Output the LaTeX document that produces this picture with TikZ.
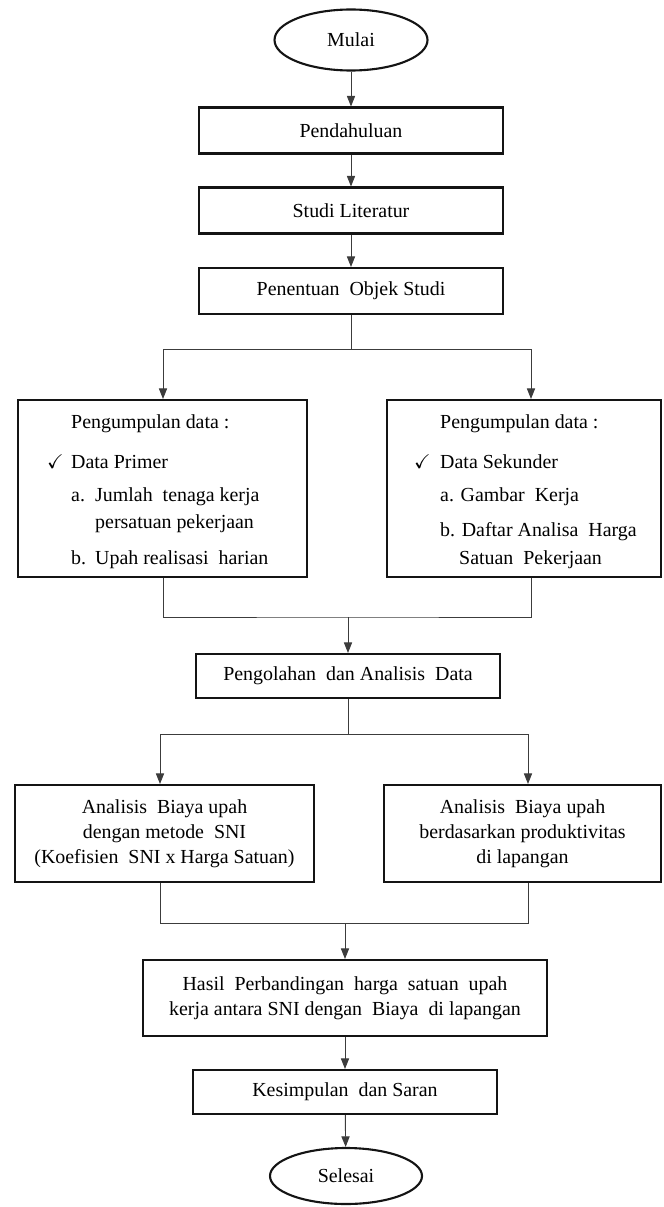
\documentclass[tikz,border=0pt]{standalone}
\usepackage{amssymb}
\usepackage{fontspec}
\setmainfont{Liberation Serif}
\usepackage{tikz}
\usetikzlibrary{shapes.geometric, arrows.meta}
\definecolor{ink}{RGB}{20, 20, 20}
\definecolor{wire}{RGB}{60, 60, 60}

\begin{document}
\begin{tikzpicture}[x=0.03cm, y=-0.03cm,
    every node/.style={font=\fontsize{17}{21.5}\selectfont},
    box/.style={draw=ink, line width=1.8pt, rectangle, inner sep=0pt, align=center},
    term/.style={draw=ink, line width=1.8pt, ellipse, inner sep=0pt},
    txt/.style={anchor=base west, inner sep=0pt},
    arr/.style={draw=wire, line width=0.8pt, -{Triangle[length=9pt, width=7pt]}},
    wire/.style={draw=wire, line width=0.8pt}]

  \useasboundingbox (0, 0) rectangle (663, 1207);

  % main column
  \node[term, minimum width=4.59cm, minimum height=1.83cm] (mulai) at (351, 40) {Mulai};
  \node[box, minimum width=9.12cm, minimum height=1.38cm] (pend) at (351, 130.5) {Pendahuluan};
  \node[box, minimum width=9.12cm, minimum height=1.38cm] (studi) at (351, 210.5) {Studi Literatur};
  \node[box, minimum width=9.12cm, minimum height=1.38cm] (objek) at (351, 291) {Penentuan \ Objek Studi};

  \draw[arr] (mulai) -- (pend);
  \draw[arr] (pend) -- (studi);
  \draw[arr] (studi) -- (objek);

  % pengumpulan data
  \node[box, minimum width=8.67cm, minimum height=5.31cm] (primer) at (162.5, 488.5) {};
  \node[box, minimum width=8.22cm, minimum height=5.31cm] (sekunder) at (524, 488.5) {};

  \node[txt] (p0) at (71, 428.5) {Pengumpulan data :};
  \node[txt] (p1c) at (47, 468.5) {$\checkmark$};
  \node[txt] (p1) at (71, 468.5) {Data Primer};
  \node[txt] (p2a) at (71, 501.5) {a.};
  \node[txt] (p2) at (95, 501.5) {Jumlah \ tenaga kerja};
  \node[txt] (p3) at (95, 528.5) {persatuan pekerjaan};
  \node[txt] (p4b) at (71, 564.5) {b.};
  \node[txt] (p4) at (95, 564.5) {Upah realisasi \ harian};

  \node[txt] (s0) at (440, 428.5) {Pengumpulan data :};
  \node[txt] (s1c) at (414, 468.5) {$\checkmark$};
  \node[txt] (s1) at (440, 468.5) {Data Sekunder};
  \node[txt] (s2) at (440, 501.5) {a. Gambar \ Kerja};
  \node[txt] (s3) at (440, 536.5) {b. Daftar Analisa \ Harga};
  \node[txt] (s4) at (459, 564.5) {Satuan \ Pekerjaan};

  \coordinate (b1) at (351, 349);
  \coordinate (b1l) at (163, 349);
  \coordinate (b1r) at (531, 349);
  \draw[wire] (objek) -- (b1);
  \draw[wire] (b1l) -- (b1r);
  \draw[arr] (b1l) -- (b1l |- primer.north);
  \draw[arr] (b1r) -- (b1r |- sekunder.north);

  \node[box, minimum width=9.12cm, minimum height=1.32cm] (olah) at (348, 676) {Pengolahan \ dan Analisis \ Data};

  \coordinate (m1) at (348, 617);
  \draw[wire] (b1l |- primer.south) |- (m1) -| (b1r |- sekunder.south);
  \draw[arr] (m1) -- (olah);

  % analisis
  \node[box, minimum width=8.97cm, minimum height=2.91cm] (sni) at (164.5, 833.5)
    {Analisis \ Biaya upah\\dengan metode \ SNI\\(Koefisien \ SNI x Harga Satuan)};
  \node[box, minimum width=8.31cm, minimum height=2.91cm] (lap) at (522.5, 833.5)
    {Analisis \ Biaya upah\\berdasarkan produktivitas\\di lapangan};

  \coordinate (b2) at (348, 734);
  \coordinate (b2l) at (160, 734);
  \coordinate (b2r) at (528, 734);
  \draw[wire] (olah) -- (b2);
  \draw[wire] (b2l) -- (b2r);
  \draw[arr] (b2l) -- (b2l |- sni.north);
  \draw[arr] (b2r) -- (b2r |- lap.north);

  \node[box, minimum width=12.12cm, minimum height=2.28cm] (hasil) at (345, 998)
    {Hasil \ Perbandingan \ harga \ satuan \ upah\\kerja antara SNI dengan \ Biaya \ di lapangan};

  \coordinate (m2) at (345, 923);
  \draw[wire] (b2l |- sni.south) |- (m2) -| (b2r |- lap.south);
  \draw[arr] (m2) -- (hasil);

  \node[box, minimum width=9.12cm, minimum height=1.32cm] (simpul) at (345, 1092) {Kesimpulan \ dan Saran};
  \node[term, minimum width=4.56cm, minimum height=1.68cm] (selesai) at (346, 1176) {Selesai};

  \draw[arr] (hasil) -- (simpul);
  \draw[arr] (simpul) -- (selesai);

\end{tikzpicture}
\end{document}
